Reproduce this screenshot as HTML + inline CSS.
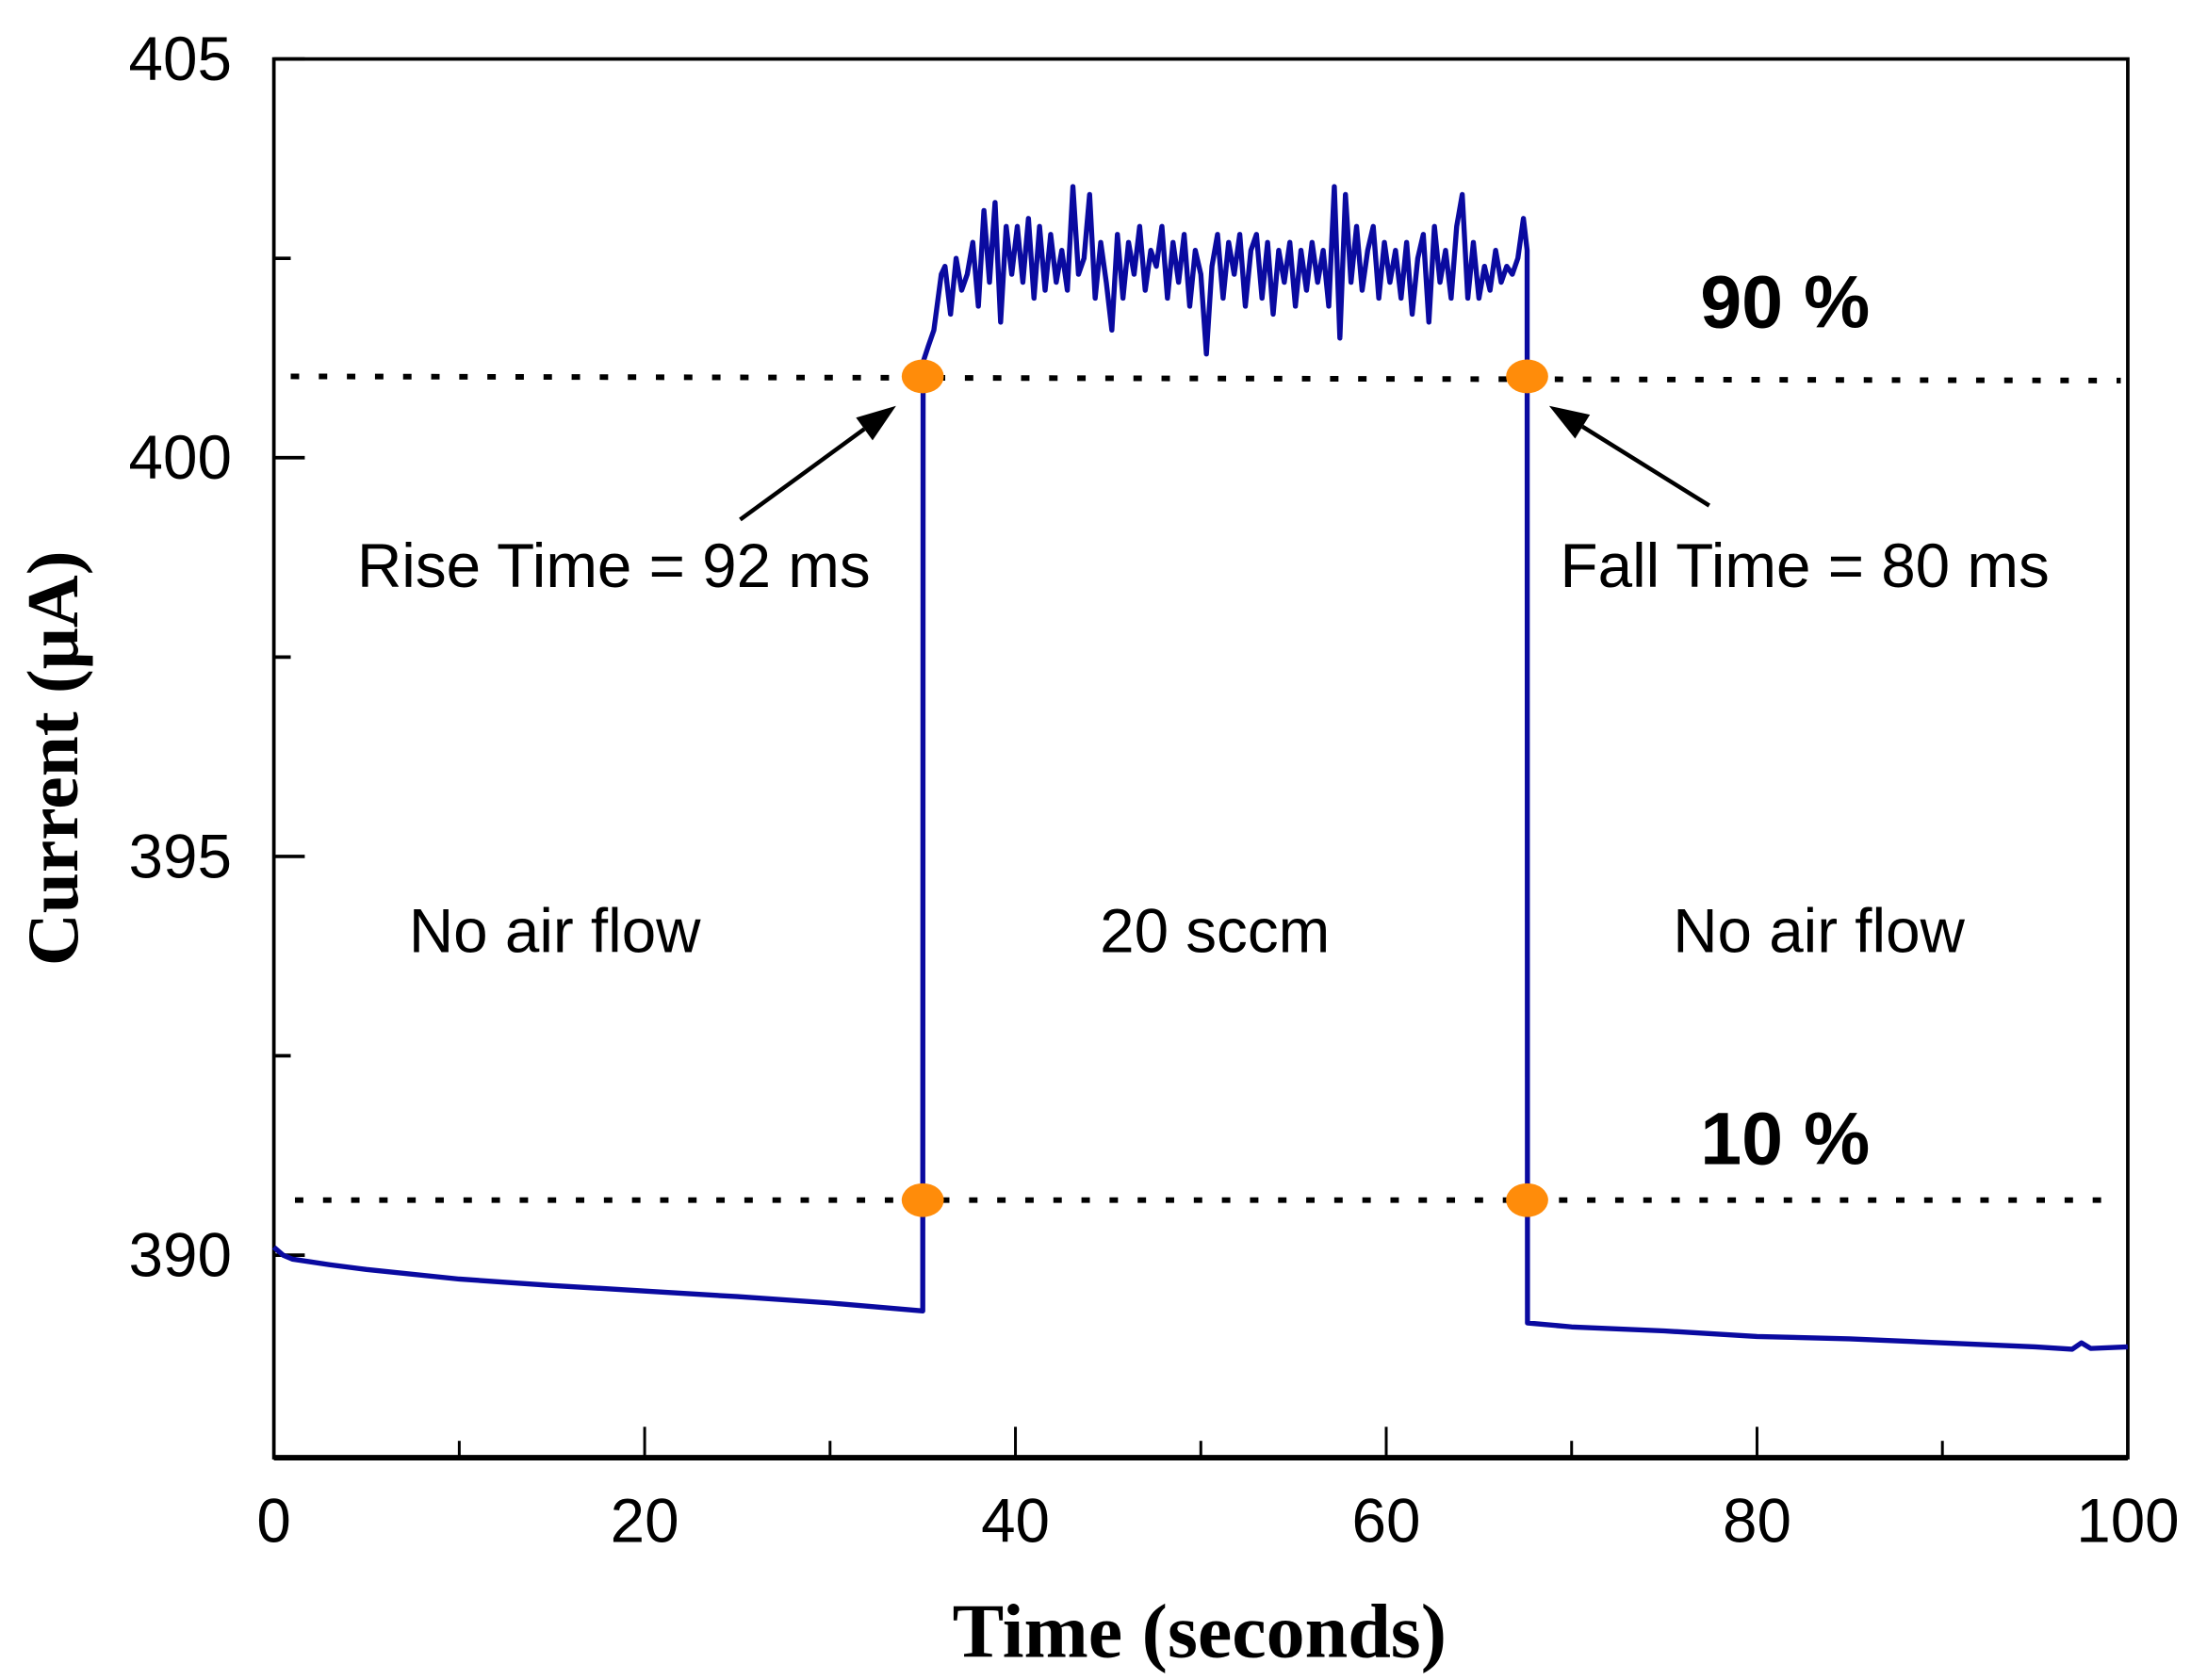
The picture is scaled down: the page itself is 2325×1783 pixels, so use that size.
<!DOCTYPE html>
<html><head><meta charset="utf-8"><style>html,body{margin:0;padding:0;background:#fff}svg{display:block}</style></head>
<body>
<svg id="chart" width="2325" height="1783" viewBox="0 0 1560 1196.3" preserveAspectRatio="none" xmlns="http://www.w3.org/2000/svg"></svg>
<script>
const xTicks = [0, 20, 40, 60, 80, 100];
const xMinorTicks = [10, 30, 50, 70, 90];
const yTicks = [390, 395, 400, 405];
const yMinorTicks = [392.5, 397.5, 402.5];
const times = [0,0.5,1,3,5,10,15,20,25,30,35,35.02,35.3,35.6,36.0,
36.2,36.5,36.8,37.1,37.4,37.7,38.0,38.3,38.6,38.9,39.2,39.5,39.8,40.1,40.4,40.7,41.0,41.3,41.6,41.9,42.2,42.5,42.8,43.1,43.4,43.7,44.0,44.3,44.6,44.9,45.2,45.5,45.8,46.1,46.4,46.7,47.0,47.3,47.6,47.9,48.2,48.5,48.8,49.1,49.4,49.7,50.0,50.3,50.6,50.9,51.2,51.5,51.8,52.1,52.4,52.7,53.0,53.3,53.6,53.9,54.2,54.5,54.8,55.1,55.4,55.7,56.0,56.3,56.6,56.9,57.2,57.5,57.8,58.1,58.4,58.7,59.0,59.3,59.6,59.9,60.2,60.5,60.8,61.1,61.4,61.7,62.0,62.3,62.6,62.9,63.2,63.5,63.8,64.1,64.4,64.7,65.0,65.3,65.6,65.9,66.2,66.5,66.8,67.1,67.4,
67.6,67.62,70,75,80,85,90,95,97,97.5,98,100];
const currents = [390.1,390.0,389.95,389.88,389.82,389.7,389.62,389.55,389.48,389.4,389.3,401.2,401.4,401.6,402.3,
402.4,401.8,402.5,402.1,402.3,402.7,401.9,403.1,402.2,403.2,401.7,402.9,402.3,402.9,402.2,403.0,402.0,402.9,402.1,402.8,402.2,402.6,402.1,403.4,402.3,402.5,403.3,402.0,402.7,402.2,401.6,402.8,402.0,402.7,402.3,402.9,402.1,402.6,402.4,402.9,402.0,402.7,402.2,402.8,401.9,402.6,402.3,401.3,402.4,402.8,402.0,402.7,402.3,402.8,401.9,402.6,402.8,402.0,402.7,401.8,402.6,402.2,402.7,401.9,402.6,402.1,402.7,402.2,402.6,401.9,403.4,401.5,403.3,402.2,402.9,402.1,402.6,402.9,402.0,402.7,402.2,402.6,402.0,402.7,401.8,402.5,402.8,401.7,402.9,402.2,402.6,402.0,402.9,403.3,402.0,402.7,402.0,402.4,402.1,402.6,402.2,402.4,402.3,402.5,403.0,
402.6,389.15,389.1,389.05,388.98,388.95,388.9,388.85,388.82,388.9,388.83,388.85];
const level90 = 401.02;
const level10 = 390.69;
const markerTimes = [35.0, 67.6];

const svg = document.getElementById('chart');
const NS = 'http://www.w3.org/2000/svg';
const X0=195, X1=1515, Y0=1038, Y1=42, YMIN=387.46, YMAX=405;
const sx = v => X0 + (v-0)/(100-0)*(X1-X0);
const sy = v => Y0 - (v-YMIN)/(YMAX-YMIN)*(Y0-Y1);
function mk(tag, attrs, txt){const e=document.createElementNS(NS,tag);for(const k in attrs)e.setAttribute(k,attrs[k]);if(txt!==undefined)e.textContent=txt;svg.appendChild(e);return e;}

let f = mk('rect',{x:X0,y:Y1,width:X1-X0,height:Y0-Y1,fill:'none',stroke:'#000','stroke-width':2.5});


let ba = mk('line',{x1:X0,y1:Y0,x2:X1,y2:Y0,stroke:'#000','stroke-width':4});



xTicks.forEach(t=>{
  let l=mk('line',{x1:sx(t),y1:Y0,x2:sx(t),y2:Y0-22,stroke:'#000','stroke-width':2});
  
  
  let tx=mk('text',{x:sx(t),y:Y0+60,'text-anchor':'middle','font-family':'Liberation Sans, sans-serif','font-size':44},String(t));
  
  
});
xMinorTicks.forEach(t=>{
  let l=mk('line',{x1:sx(t),y1:Y0,x2:sx(t),y2:Y0-12,stroke:'#000','stroke-width':2});
  
  
});
yTicks.forEach(t=>{
  let l=mk('line',{x1:X0,y1:sy(t),x2:X0+22,y2:sy(t),stroke:'#000','stroke-width':2.5});
  
  
  let tx=mk('text',{x:X0-30,y:sy(t)+15,'text-anchor':'end','font-family':'Liberation Sans, sans-serif','font-size':44},String(t));
  
  
});
yMinorTicks.forEach(t=>{
  let l=mk('line',{x1:X0,y1:sy(t),x2:X0+12,y2:sy(t),stroke:'#000','stroke-width':2.5});
  
  
});

let d90=mk('line',{x1:207,y1:sy(level90),x2:1510,y2:sy(level90)+3,stroke:'#000','stroke-width':4,'stroke-dasharray':'6 14'});


let d10=mk('line',{x1:210,y1:sy(level10),x2:1510,y2:sy(level10),stroke:'#000','stroke-width':4,'stroke-dasharray':'6 14'});



let pts = times.map((t,i)=>sx(t).toFixed(2)+','+sy(currents[i]).toFixed(2)).join(' ');
let pl=mk('polyline',{points:pts,fill:'none',stroke:'#0a0aa0','stroke-width':3.6,'stroke-linejoin':'round'});



markerTimes.forEach(t=>{
  [level90, level10].forEach(lv=>{
    let c=mk('ellipse',{cx:sx(t),cy:sy(lv),rx:15,ry:12,fill:'#ff8c0a'});
    
    
  });
});

function arrow(x1,y1,x2,y2,name){
  const a=Math.atan2(y2-y1,x2-x1), L=28, W=10;
  const bx=x2-L*Math.cos(a), by=y2-L*Math.sin(a);
  let ln=mk('line',{x1:x1,y1:y1,x2:bx,y2:by,stroke:'#000','stroke-width':3});
  
  
  let hd=mk('polygon',{points:`${x2},${y2} ${bx+W*Math.sin(a)},${by-W*Math.cos(a)} ${bx-W*Math.sin(a)},${by+W*Math.cos(a)}`,fill:'#000'});
  
  
}
arrow(527,370,638,289,'rise-arrow');
arrow(1217,360,1103,289,'fall-arrow');

function label(x,y,txt,name,opts){
  const a=Object.assign({x:x,y:y,'text-anchor':'middle','font-family':'Liberation Sans, sans-serif','font-size':44},opts||{});
  let t=mk('text',a,txt);
  
  
}
label(437,418,'Rise Time = 92 ms','rise-time-label');
label(1285,418,'Fall Time = 80 ms','fall-time-label');
label(395,678,'No air flow','no-air-flow-left');
label(865,678,'20 sccm','flow-rate-label');
label(1295,678,'No air flow','no-air-flow-right');
label(1271,233,'90 %','90-percent-label',{'font-weight':'bold','font-size':53});
label(1271,829,'10 %','10-percent-label',{'font-weight':'bold','font-size':53});
label(854,1180,'Time (seconds)','x-axis-title',{'font-family':'Liberation Serif, serif','font-weight':'bold','font-size':55});
label(0,0,'Current (μA)','y-axis-title',{'font-family':'Liberation Serif, serif','font-weight':'bold','font-size':52,transform:'translate(55,540) rotate(-90)'});
</script>
</body></html>
